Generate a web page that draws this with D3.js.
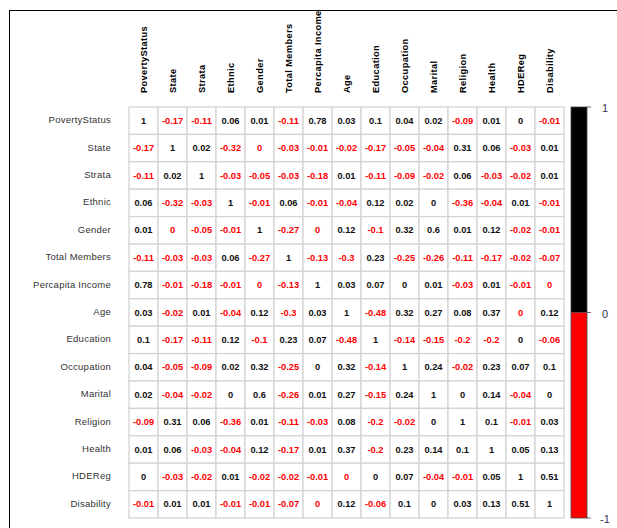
<!DOCTYPE html>
<html><head><meta charset="utf-8">
<script src="https://cdn.jsdelivr.net/npm/d3@7"></script>
<style>html,body{margin:0;padding:0;background:#fff;}svg{display:block;font-family:"Liberation Sans",Arial,sans-serif;}</style>
</head><body><svg id="c" width="617" height="528"></svg>
<script>
const vars = ["PovertyStatus","State","Strata","Ethnic","Gender","Total Members","Percapita Income","Age","Education","Occupation","Marital","Religion","Health","HDEReg","Disability"];
// small negatives (-0.001) print as a red "0"
const corr = [
 [1,-0.17,-0.11,0.06,0.01,-0.11,0.78,0.03,0.1,0.04,0.02,-0.09,0.01,0.001,-0.01],
 [-0.17,1,0.02,-0.32,-0.001,-0.03,-0.01,-0.02,-0.17,-0.05,-0.04,0.31,0.06,-0.03,0.01],
 [-0.11,0.02,1,-0.03,-0.05,-0.03,-0.18,0.01,-0.11,-0.09,-0.02,0.06,-0.03,-0.02,0.01],
 [0.06,-0.32,-0.03,1,-0.01,0.06,-0.01,-0.04,0.12,0.02,0.001,-0.36,-0.04,0.01,-0.01],
 [0.01,-0.001,-0.05,-0.01,1,-0.27,-0.001,0.12,-0.1,0.32,0.6,0.01,0.12,-0.02,-0.01],
 [-0.11,-0.03,-0.03,0.06,-0.27,1,-0.13,-0.3,0.23,-0.25,-0.26,-0.11,-0.17,-0.02,-0.07],
 [0.78,-0.01,-0.18,-0.01,-0.001,-0.13,1,0.03,0.07,0.001,0.01,-0.03,0.01,-0.01,-0.001],
 [0.03,-0.02,0.01,-0.04,0.12,-0.3,0.03,1,-0.48,0.32,0.27,0.08,0.37,-0.001,0.12],
 [0.1,-0.17,-0.11,0.12,-0.1,0.23,0.07,-0.48,1,-0.14,-0.15,-0.2,-0.2,0.001,-0.06],
 [0.04,-0.05,-0.09,0.02,0.32,-0.25,0.001,0.32,-0.14,1,0.24,-0.02,0.23,0.07,0.1],
 [0.02,-0.04,-0.02,0.001,0.6,-0.26,0.01,0.27,-0.15,0.24,1,0.001,0.14,-0.04,0.001],
 [-0.09,0.31,0.06,-0.36,0.01,-0.11,-0.03,0.08,-0.2,-0.02,0.001,1,0.1,-0.01,0.03],
 [0.01,0.06,-0.03,-0.04,0.12,-0.17,0.01,0.37,-0.2,0.23,0.14,0.1,1,0.05,0.13],
 [0.001,-0.03,-0.02,0.01,-0.02,-0.02,-0.01,-0.001,0.001,0.07,-0.04,-0.01,0.05,1,0.51],
 [-0.01,0.01,0.01,-0.01,-0.01,-0.07,-0.001,0.12,-0.06,0.1,0.001,0.03,0.13,0.51,1]
];
const legendBreaks = [-1, 0, 1];
const legendColors = ["#FF0000", "#000000"];
const legendTicks = [1, 0, -1];

const svg = d3.select("#c");
// outer frame
svg.append("rect").attr("x",9.5).attr("y",10.5).attr("width",640).attr("height",560)
  .attr("fill","none").attr("stroke","#000").attr("stroke-width",1);

const x = d3.scaleBand().domain(vars).range([129,564]);
const y = d3.scaleBand().domain(vars).range([107,518]);

const cells = [];
corr.forEach((row,i)=>row.forEach((v,j)=>cells.push({r:vars[i],c:vars[j],v})));

svg.append("g").selectAll("rect").data(cells).join("rect")
  .attr("x",d=>x(d.c)).attr("y",d=>y(d.r))
  .attr("width",x.bandwidth()).attr("height",y.bandwidth())
  .attr("fill","#fff").attr("stroke","#d4d4d4").attr("stroke-width",1.3);

svg.append("g").selectAll("text").data(cells).join("text")
  .attr("x",d=>x(d.c)+x.bandwidth()/2).attr("y",d=>y(d.r)+y.bandwidth()/2)
  .attr("text-anchor","middle").attr("dominant-baseline","central")
  .attr("font-size",9.3).attr("font-weight","bold")
  .attr("fill",d=>d.v<0?"#FF0000":"#111")
  .text(d=>{const r=Math.round(d.v*100)/100; return String(r===0?0:r);});

// row labels
svg.append("g").selectAll("text").data(vars).join("text")
  .attr("x",111).attr("y",d=>y(d)+y.bandwidth()/2-1)
  .attr("text-anchor","end").attr("dominant-baseline","central")
  .attr("font-size",9.5).attr("letter-spacing",0.25).attr("fill","#333").text(d=>d);

// column labels
svg.append("g").selectAll("text").data(vars).join("text")
  .attr("transform",d=>`translate(${x(d)+x.bandwidth()/2+3.3},93) rotate(-90)`)
  .attr("text-anchor","start").attr("font-size",9.3).attr("fill","#000")
  .attr("letter-spacing",0.35).attr("font-weight","bold").text(d=>d);

// color legend
const ly = d3.scaleLinear().domain([-1,1]).range([518,107]);
const segs = legendColors.map((c,i)=>({lo:legendBreaks[i],hi:legendBreaks[i+1],c}));
svg.append("g").selectAll("rect").data(segs).join("rect")
  .attr("x",571).attr("width",16)
  .attr("y",d=>ly(d.hi)).attr("height",d=>ly(d.lo)-ly(d.hi))
  .attr("fill",d=>d.c);
svg.append("rect").attr("x",571).attr("y",107).attr("width",16).attr("height",411)
  .attr("fill","none").attr("stroke","#444").attr("stroke-width",0.8);
const lg = svg.append("g").selectAll("g").data(legendTicks).join("g");
lg.append("line").attr("x1",587).attr("x2",591)
  .attr("y1",d=>ly(d)).attr("y2",d=>ly(d)).attr("stroke","#444").attr("stroke-width",0.8);
lg.append("text").attr("x",d=>d<0?600:602).attr("y",d=>ly(d)+1)
  .attr("dominant-baseline","central").attr("font-size",11).attr("fill","#333355")
  .text(d=>String(d));
</script></body></html>
